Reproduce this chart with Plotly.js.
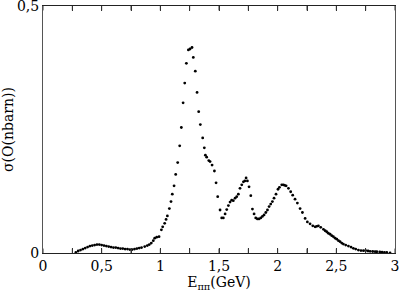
<!DOCTYPE html>
<html>
<head>
<meta charset="utf-8">
<script src="https://cdn.plot.ly/plotly-3.0.1.min.js"></script>
<style>html,body{margin:0;padding:0;background:#fff;}#chart{width:399px;height:295px;}</style>
</head>
<body>
<div id="chart"></div>
<script>
// Energy E_pipi (GeV)
const energy = [
0.28,0.30,0.32,0.34,0.36,0.38,0.40,0.42,0.44,0.46,0.48,0.50,0.52,0.54,0.56,0.58,0.60,0.62,0.64,0.66,
0.68,0.70,0.72,0.74,0.76,0.78,0.80,0.82,0.84,0.867,0.889,0.906,0.923,0.940,0.952,0.969,0.989,1.009,1.020,1.037,
1.049,1.060,1.077,1.091,1.102,1.117,1.131,1.148,1.165,1.179,1.194,1.208,1.222,1.239,1.253,1.270,1.281,1.298,1.313,1.327,
1.341,1.361,1.375,1.384,1.395,1.413,1.424,1.441,1.461,1.475,1.489,1.509,1.523,1.537,1.552,1.566,1.580,1.594,1.608,1.622,
1.637,1.651,1.665,1.679,1.694,1.708,1.720,1.731,1.742,1.756,1.771,1.785,1.799,1.813,1.827,1.841,1.856,1.870,1.884,1.899,
1.913,1.927,1.941,1.955,1.969,1.986,2.003,2.015,2.035,2.049,2.060,2.072,2.092,2.111,2.128,2.148,2.168,2.191,2.211,2.234,
2.253,2.276,2.299,2.319,2.333,2.347,2.367,2.390,2.405,2.418,2.432,2.447,2.461,2.475,2.490,2.504,2.518,2.532,2.546,2.560,
2.580,2.603,2.625,2.645,2.665,2.688,2.710,2.731,2.750,2.770,2.788,2.810,2.830,2.845,2.870,2.890,2.910,2.930,2.958
];
// Cross section sigma (nbarn)
const sigma = [
0.001,0.004,0.006,0.008,0.010,0.012,0.014,0.015,0.016,0.017,0.017,0.016,0.015,0.014,0.013,0.012,0.011,0.011,0.010,0.009,
0.009,0.008,0.008,0.007,0.007,0.008,0.009,0.010,0.011,0.013,0.015,0.017,0.020,0.025,0.030,0.032,0.033,0.047,0.053,0.060,
0.068,0.075,0.090,0.104,0.119,0.136,0.159,0.183,0.217,0.254,0.304,0.344,0.384,0.411,0.413,0.416,0.396,0.368,0.325,0.286,
0.260,0.233,0.213,0.198,0.194,0.187,0.185,0.178,0.166,0.142,0.114,0.087,0.071,0.071,0.079,0.088,0.096,0.103,0.107,0.106,
0.111,0.114,0.119,0.131,0.138,0.144,0.146,0.152,0.146,0.134,0.116,0.089,0.079,0.071,0.069,0.069,0.071,0.074,0.077,0.082,
0.087,0.094,0.099,0.104,0.111,0.119,0.129,0.133,0.138,0.138,0.137,0.136,0.131,0.124,0.117,0.109,0.101,0.090,0.082,0.070,
0.063,0.059,0.055,0.053,0.054,0.055,0.052,0.048,0.045,0.043,0.040,0.038,0.035,0.033,0.030,0.028,0.025,0.023,0.020,0.018,
0.016,0.014,0.012,0.0095,0.008,0.006,0.005,0.0047,0.005,0.004,0.0034,0.003,0.0028,0.0026,0.002,0.0018,0.0012,0.001,0.0
];
const xTickVals = [0, 0.25, 0.5, 0.75, 1, 1.25, 1.5, 1.75, 2, 2.25, 2.5, 2.75, 3];
const xTickText = ['0', '', '0,5', '', '1', '', '1,5', '', '2', '', '2,5', '', '3'];
const yTickVals = [0, 0.5];
const yTickText = ['0', '0,5'];
const xTitle = 'E<sub>ππ</sub>(GeV)';
const yTitle = 'σ(O(nbarn))';

const family = 'DejaVu Serif';
const trace = {
  x: energy, y: sigma, type: 'scatter', mode: 'markers',
  marker: {color: '#000', size: 2.8},
  hoverinfo: 'none'
};
const tickFont = {family: family, size: 14, color: '#000'};
// inward tick marks on bottom and top edges, at the x tick values
const tickShapes = [];
xTickVals.forEach(function (v) {
  tickShapes.push({type: 'line', xref: 'x', yref: 'paper', x0: v, x1: v, y0: 0, y1: 0.018,
    line: {color: '#333', width: 1}});
  tickShapes.push({type: 'line', xref: 'x', yref: 'paper', x0: v, x1: v, y0: 0.982, y1: 1,
    line: {color: '#333', width: 1}});
});
const layout = {
  width: 399, height: 295,
  margin: {l: 43, r: 4, t: 6, b: 42},
  paper_bgcolor: '#fff', plot_bgcolor: '#fff',
  showlegend: false,
  font: {family: family, color: '#000'},
  shapes: tickShapes,
  xaxis: {
    range: [0, 3], tickmode: 'array', tickvals: xTickVals, ticktext: xTickText,
    showgrid: false, zeroline: false, showline: true, linecolor: '#222', linewidth: 1,
    mirror: 'ticks', ticks: 'inside', ticklen: 5, tickwidth: 1, tickcolor: '#333', tickfont: tickFont,
    ticklabeloverflow: 'allow',
    title: {text: xTitle, font: {family: family, size: 14, color: '#000'}, standoff: 3}
  },
  yaxis: {
    range: [0, 0.5], tickmode: 'array', tickvals: yTickVals, ticktext: yTickText,
    showgrid: false, zeroline: false, showline: true, linecolor: '#555', linewidth: 1,
    mirror: true, ticks: '', tickfont: tickFont, ticklabeloverflow: 'allow',
    title: {text: yTitle, font: {family: family, size: 14, color: '#000'}, standoff: 7}
  }
};
Plotly.newPlot('chart', [trace], layout, {staticPlot: true, displayModeBar: false});
</script>
</body>
</html>
